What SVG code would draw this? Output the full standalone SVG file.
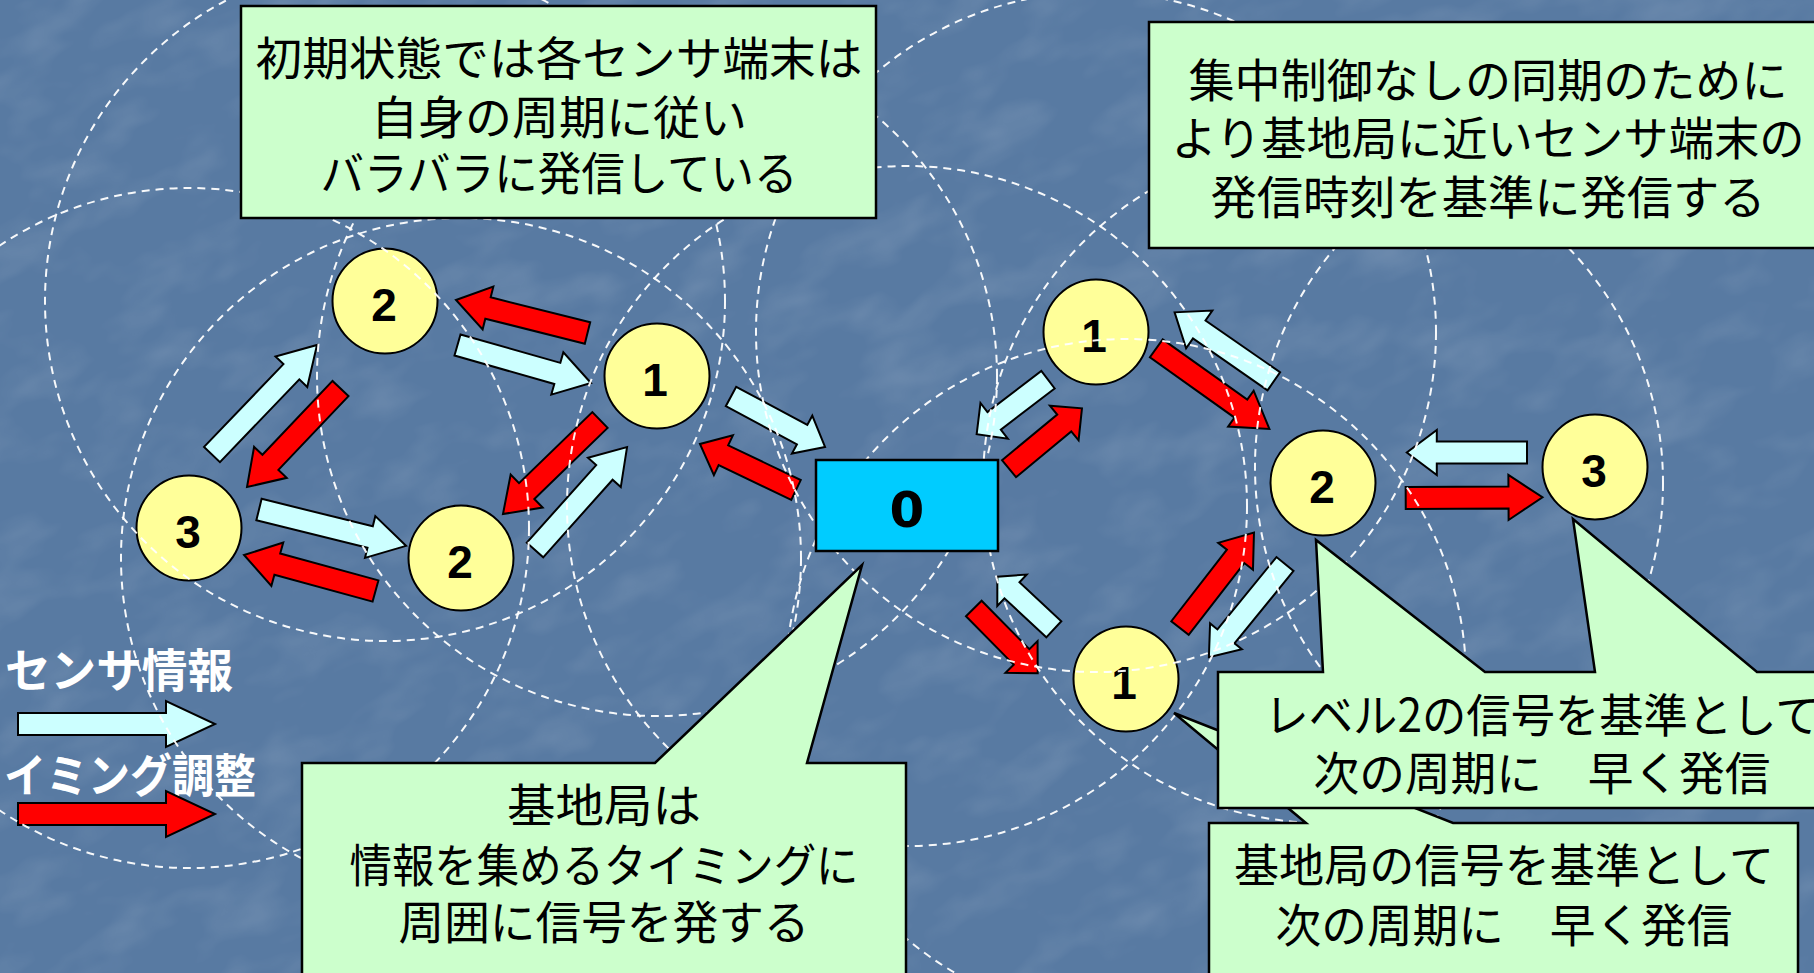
<svg xmlns="http://www.w3.org/2000/svg" width="1814" height="973" viewBox="0 0 1814 973">
<defs>
<style>
.cy{fill:#CCFFFF;stroke:#000;stroke-width:2;stroke-linejoin:miter}
.rd{fill:#FF0000;stroke:#000;stroke-width:2;stroke-linejoin:miter}
.nd{fill:#FFFF99;stroke:#000;stroke-width:2}
.num{font-family:"Liberation Sans",Arial,sans-serif;font-weight:bold;font-size:46px;text-anchor:middle;fill:#000}
.rng{fill:none;stroke:#fff;stroke-width:2;stroke-dasharray:8 6;opacity:.95}
.co{fill:#CCFFCC;stroke:#000;stroke-width:2.5;stroke-linejoin:miter}
.jt{font-family:"Noto Sans CJK JP","Noto Sans CJK SC",sans-serif;font-size:46px;text-anchor:middle;fill:#000}
.lg{font-family:"Noto Sans CJK JP","Noto Sans CJK SC",sans-serif;font-size:46px;font-weight:bold;fill:#fff}
</style>
<filter id="tex" x="0" y="0" width="100%" height="100%">
<feTurbulence type="fractalNoise" baseFrequency="0.012 0.022" numOctaves="3" seed="7" result="n"/>
<feColorMatrix in="n" type="matrix" values="0 0 0 0 1  0 0 0 0 1  0 0 0 0 1  0.6 0 0 0 -0.28"/>
</filter>
</defs>
<rect width="1814" height="973" fill="#587aa2"/>
<rect x="-400" y="-400" width="2614" height="1773" filter="url(#tex)" opacity="0.45" transform="rotate(-25 907 486)"/>

<g id="legend">
<text class="lg" x="5" y="687" textLength="228" lengthAdjust="spacingAndGlyphs">センサ情報</text>
<path class="cy" transform="translate(18,724)" d="M0,-11 H148 V-23 L197,0 L148,23 V11 H0 Z"/>
<text class="lg" x="4" y="792" textLength="252" lengthAdjust="spacingAndGlyphs">イミング調整</text>
<path class="rd" transform="translate(18,814)" d="M0,-11 H148 V-23 L197,0 L148,23 V11 H0 Z"/>
</g>

<g id="connectors">
<path class="cy" transform="translate(212,454.5) rotate(-46.2)" d="M0,-11 H114.7 V-22 L151.7,0 L114.7,22 V11 H0 Z"/>
<path class="rd" transform="translate(340.5,388.5) rotate(133.5)" d="M0,-11 H101.8 V-22.5 L135.8,0 L101.8,22.5 V11 H0 Z"/>
<path class="cy" transform="translate(259,509.5) rotate(13.9)" d="M0,-11 H114.5 V-21.5 L151.5,0 L114.5,21.5 V11 H0 Z"/>
<path class="rd" transform="translate(375.5,591) rotate(-164.7)" d="M0,-11 H101.8 V-22.5 L136.3,0 L101.8,22.5 V11 H0 Z"/>
<path class="rd" transform="translate(587.5,333) rotate(-165.9)" d="M0,-11 H102.6 V-22 L135.6,0 L102.6,22 V11 H0 Z"/>
<path class="cy" transform="translate(457.5,345) rotate(15.9)" d="M0,-11 H103.8 V-22 L138.8,0 L103.8,22 V11 H0 Z"/>
<path class="rd" transform="translate(600,420) rotate(135.9)" d="M0,-11 H102.1 V-23 L135.1,0 L102.1,23 V11 H0 Z"/>
<path class="cy" transform="translate(535,550) rotate(-48.2)" d="M0,-11 H104.1 V-22 L138.1,0 L104.1,22 V11 H0 Z"/>
<path class="cy" transform="translate(731,396.5) rotate(28.2)" d="M0,-11 H80.7 V-21.5 L106.7,0 L80.7,21.5 V11 H0 Z"/>
<path class="rd" transform="translate(796,490) rotate(-154.4)" d="M0,-11 H80.5 V-22 L106.5,0 L80.5,22 V11 H0 Z"/>
<path class="cy" transform="translate(1048,379.7) rotate(142.6)" d="M0,-11 H67.8 V-22.5 L89.8,0 L67.8,22.5 V11 H0 Z"/>
<path class="rd" transform="translate(1009,468.7) rotate(-39.6)" d="M0,-11 H71.7 V-22.5 L94.7,0 L71.7,22.5 V11 H0 Z"/>
<path class="cy" transform="translate(1053.8,629.3) rotate(-137)" d="M0,-11 H57.2 V-21.5 L77.2,0 L57.2,21.5 V11 H0 Z"/>
<path class="rd" transform="translate(973.8,608.5) rotate(45.4)" d="M0,-11 H68 V-22.5 L91,0 L68,22.5 V11 H0 Z"/>
<path class="cy" transform="translate(1273.8,381.3) rotate(-145.2)" d="M0,-11 H90.8 V-23 L120.8,0 L90.8,23 V11 H0 Z"/>
<path class="rd" transform="translate(1156.3,348.3) rotate(35.5)" d="M0,-11 H103.9 V-22 L138.9,0 L103.9,22 V11 H0 Z"/>
<path class="cy" transform="translate(1527,452.5) rotate(180)" d="M0,-11 H90.2 V-22.5 L120.2,0 L90.2,22.5 V11 H0 Z"/>
<path class="rd" transform="translate(1405.7,498) rotate(-0.3)" d="M0,-11 H102.8 V-22.5 L136.8,0 L102.8,22.5 V11 H0 Z"/>
<path class="rd" transform="translate(1180,628) rotate(-52.2)" d="M0,-11 H90.7 V-22 L120.7,0 L90.7,22 V11 H0 Z"/>
<path class="cy" transform="translate(1285,564) rotate(129.2)" d="M0,-11 H93.4 V-20.5 L120.4,0 L93.4,20.5 V11 H0 Z"/>
</g>

<g id="node-2a"><circle class="nd" cx="385" cy="301" r="52.5"/><text class="num" x="384" y="321">2</text></g>
<g id="node-1a"><circle class="nd" cx="657" cy="376" r="52.5"/><text class="num" x="655" y="396">1</text></g>
<g id="node-3a"><circle class="nd" cx="189" cy="528" r="52.5"/><text class="num" x="188" y="548">3</text></g>
<g id="node-2b"><circle class="nd" cx="461" cy="558" r="52.5"/><text class="num" x="460" y="578">2</text></g>
<g id="node-1b"><circle class="nd" cx="1096" cy="332" r="52.5"/><text class="num" x="1094" y="352">1</text></g>
<g id="node-2c"><circle class="nd" cx="1323" cy="483" r="52.5"/><text class="num" x="1322" y="503">2</text></g>
<g id="node-3c"><circle class="nd" cx="1595" cy="467" r="52.5"/><text class="num" x="1594" y="487">3</text></g>
<g id="node-1c"><circle class="nd" cx="1126" cy="679" r="52.5"/><text class="num" x="1124" y="699">1</text></g>

<g id="ranges">
<circle class="rng" cx="385" cy="301" r="340"/>
<circle class="rng" cx="657" cy="376" r="340"/>
<circle class="rng" cx="189" cy="528" r="340"/>
<circle class="rng" cx="461" cy="558" r="340"/>
<circle class="rng" cx="907" cy="506" r="340"/>
<circle class="rng" cx="1096" cy="332" r="340"/>
<circle class="rng" cx="1323" cy="483" r="340"/>
<circle class="rng" cx="1595" cy="467" r="340"/>
<circle class="rng" cx="1126" cy="679" r="340"/>
</g>

<g id="node-0">
<rect x="816" y="460" width="182" height="91" fill="#00CCFF" stroke="#000" stroke-width="2.5"/>
<text x="907" y="527" font-family="'DejaVu Sans',sans-serif" font-weight="bold" font-size="50" text-anchor="middle">0</text>
</g>

<g id="callout-initial">
<rect class="co" x="241" y="6" width="635" height="212"/>
<text class="jt" x="559" y="75" textLength="607" lengthAdjust="spacingAndGlyphs">初期状態では各センサ端末は</text>
<text class="jt" x="559" y="134" textLength="376" lengthAdjust="spacingAndGlyphs">自身の周期に従い</text>
<text class="jt" x="559" y="190" textLength="477" lengthAdjust="spacingAndGlyphs">バラバラに発信している</text>
</g>

<g id="callout-sync">
<rect class="co" x="1149" y="22" width="690" height="226"/>
<text class="jt" x="1488" y="97" textLength="599" lengthAdjust="spacingAndGlyphs">集中制御なしの同期のために</text>
<text class="jt" x="1488" y="155" textLength="633" lengthAdjust="spacingAndGlyphs">より基地局に近いセンサ端末の</text>
<text class="jt" x="1488" y="214" textLength="555" lengthAdjust="spacingAndGlyphs">発信時刻を基準に発信する</text>
</g>

<g id="callout-base">
<path class="co" d="M302,763 H655 L862,565 L807,763 H906 V990 H302 Z"/>
<text class="jt" x="604" y="822" textLength="194" lengthAdjust="spacingAndGlyphs">基地局は</text>
<text class="jt" x="604" y="882" textLength="509" lengthAdjust="spacingAndGlyphs">情報を集めるタイミングに</text>
<text class="jt" x="604" y="939" textLength="411" lengthAdjust="spacingAndGlyphs">周囲に信号を発する</text>
</g>

<g id="callout-level1">
<path class="co" d="M1209,823 H1306 L1174,713 L1453,823 H1798 V990 H1209 Z"/>
<text class="jt" x="1504" y="882" textLength="540" lengthAdjust="spacingAndGlyphs">基地局の信号を基準として</text>
<text class="jt" x="1504" y="942" textLength="457" lengthAdjust="spacingAndGlyphs">次の周期に　早く発信</text>
</g>

<g id="callout-level2">
<path class="co" d="M1218,672 H1323 L1316,540 L1485,672 H1595 L1573,519 L1757,672 H1870 V808 H1218 Z"/>
<text class="jt" x="1542" y="732" textLength="555" lengthAdjust="spacingAndGlyphs">レベル2の信号を基準として</text>
<text class="jt" x="1542" y="790" textLength="457" lengthAdjust="spacingAndGlyphs">次の周期に　早く発信</text>
</g>
</svg>
